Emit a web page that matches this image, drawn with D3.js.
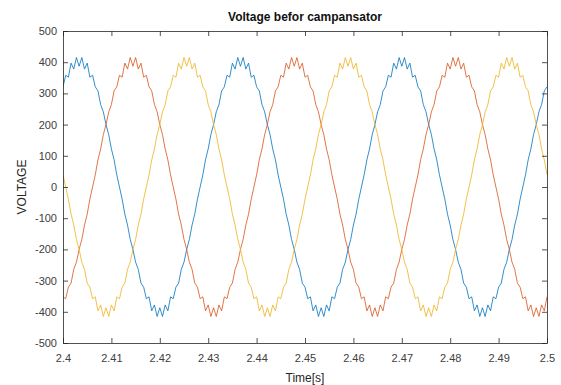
<!DOCTYPE html>
<html lang="en">
<head>
<meta charset="UTF-8">
<title>Voltage befor campansator</title>
<script src="https://cdnjs.cloudflare.com/ajax/libs/d3/7.8.5/d3.min.js"></script>
<style>
    body { margin: 0; background: #fff; font-family: "Liberation Sans", Arial, sans-serif; }
    svg { display: block; }
</style>
</head>
<body>
<svg id="chart" width="561" height="385"></svg>
<script>
// sampled at 1/1800 s starting at 2.4 s
const tStart = 2.4;
const tStep = 1 / 1800;

const phaseA = [ // blue
    321, 358, 352, 397, 378, 415, 387, 415, 378, 397, 352, 358, 321, 308, 264, 241, 200, 168, 122, 87, 39,
    0, -39, -87, -122, -168, -200, -241, -264, -308, -321, -358, -352, -397, -378, -415, -387, -415, -378, -397, -352,
    -358, -321, -308, -264, -241, -200, -168, -122, -87, -39, 0, 39, 87, 122, 168, 200, 241, 264, 308, 321,
    358, 352, 397, 378, 415, 387, 415, 378, 397, 352, 358, 321, 308, 264, 241, 200, 168, 122, 87, 39,
    0, -39, -87, -122, -168, -200, -241, -264, -308, -321, -358, -352, -397, -378, -415, -387, -415, -378, -397, -352,
    -358, -321, -308, -264, -241, -200, -168, -122, -87, -39, 0, 39, 87, 122, 168, 200, 241, 264, 308, 321,
    358, 352, 397, 378, 415, 387, 415, 378, 397, 352, 358, 321, 308, 264, 241, 200, 168, 122, 87, 39,
    0, -39, -87, -122, -168, -200, -241, -264, -308, -321, -358, -352, -397, -378, -415, -387, -415, -378, -397, -352,
    -358, -321, -308, -264, -241, -200, -168, -122, -87, -39, 0, 39, 87, 122, 168, 200, 241, 264, 308, 321
];

const phaseB = [ // orange
    -352, -358, -321, -308, -264, -241, -200, -168, -122, -87, -39, 0, 39, 87, 122, 168, 200, 241, 264, 308, 321,
    358, 352, 397, 378, 415, 387, 415, 378, 397, 352, 358, 321, 308, 264, 241, 200, 168, 122, 87, 39,
    0, -39, -87, -122, -168, -200, -241, -264, -308, -321, -358, -352, -397, -378, -415, -387, -415, -378, -397, -352,
    -358, -321, -308, -264, -241, -200, -168, -122, -87, -39, 0, 39, 87, 122, 168, 200, 241, 264, 308, 321,
    358, 352, 397, 378, 415, 387, 415, 378, 397, 352, 358, 321, 308, 264, 241, 200, 168, 122, 87, 39,
    0, -39, -87, -122, -168, -200, -241, -264, -308, -321, -358, -352, -397, -378, -415, -387, -415, -378, -397, -352,
    -358, -321, -308, -264, -241, -200, -168, -122, -87, -39, 0, 39, 87, 122, 168, 200, 241, 264, 308, 321,
    358, 352, 397, 378, 415, 387, 415, 378, 397, 352, 358, 321, 308, 264, 241, 200, 168, 122, 87, 39,
    0, -39, -87, -122, -168, -200, -241, -264, -308, -321, -358, -352, -397, -378, -415, -387, -415, -378, -397, -352
];

const phaseC = [ // yellow
    39,
    0, -39, -87, -122, -168, -200, -241, -264, -308, -321, -358, -352, -397, -378, -415, -387, -415, -378, -397, -352,
    -358, -321, -308, -264, -241, -200, -168, -122, -87, -39, 0, 39, 87, 122, 168, 200, 241, 264, 308, 321,
    358, 352, 397, 378, 415, 387, 415, 378, 397, 352, 358, 321, 308, 264, 241, 200, 168, 122, 87, 39,
    0, -39, -87, -122, -168, -200, -241, -264, -308, -321, -358, -352, -397, -378, -415, -387, -415, -378, -397, -352,
    -358, -321, -308, -264, -241, -200, -168, -122, -87, -39, 0, 39, 87, 122, 168, 200, 241, 264, 308, 321,
    358, 352, 397, 378, 415, 387, 415, 378, 397, 352, 358, 321, 308, 264, 241, 200, 168, 122, 87, 39,
    0, -39, -87, -122, -168, -200, -241, -264, -308, -321, -358, -352, -397, -378, -415, -387, -415, -378, -397, -352,
    -358, -321, -308, -264, -241, -200, -168, -122, -87, -39, 0, 39, 87, 122, 168, 200, 241, 264, 308, 321,
    358, 352, 397, 378, 415, 387, 415, 378, 397, 352, 358, 321, 308, 264, 241, 200, 168, 122, 87, 39
];

const xTicks = [2.4, 2.41, 2.42, 2.43, 2.44, 2.45, 2.46, 2.47, 2.48, 2.49, 2.5];
const yTicks = [500, 400, 300, 200, 100, 0, -100, -200, -300, -400, -500];
const seriesColors = ["#0072BD", "#D95319", "#EDB120"];

const svg = d3.select("#chart");
const margin = { left: 63, right: 14, top: 31, bottom: 42 };
const width = 561, height = 385;
const x0 = margin.left, x1 = width - margin.right;
const y0 = margin.top, y1 = height - margin.bottom;

const x = d3.scaleLinear().domain([2.4, 2.5]).range([x0, x1]);
const y = d3.scaleLinear().domain([-500, 500]).range([y1, y0]);

svg.append("rect").attr("width", width).attr("height", height).attr("fill", "#fff");

// lines
const line = d3.line()
    .x((d, i) => x(tStart + i * tStep))
    .y(d => y(d));

const clip = svg.append("clipPath").attr("id", "plotclip")
    .append("rect").attr("x", x0).attr("y", y0).attr("width", x1 - x0).attr("height", y1 - y0);

svg.append("g").attr("clip-path", "url(#plotclip)")
    .selectAll("path")
    .data([phaseA, phaseB, phaseC])
    .enter()
    .append("path")
    .attr("d", line)
    .attr("fill", "none")
    .attr("stroke", (d, i) => seriesColors[i])
    .attr("stroke-width", 0.8)
    .attr("stroke-linejoin", "round");

// axes, MATLAB style box with inward ticks
const axisColor = "#262626";
const tickLen = 5;

const xAxis = svg.append("g").attr("transform", `translate(0,${y1})`)
    .call(d3.axisBottom(x).tickValues(xTicks).tickSizeInner(-tickLen).tickSizeOuter(0)
        .tickFormat(d => d3.format("")(+d.toFixed(2))));
const xAxisTop = svg.append("g").attr("transform", `translate(0,${y0})`)
    .call(d3.axisTop(x).tickValues(xTicks).tickSizeInner(-tickLen).tickSizeOuter(0).tickFormat(""));
const yAxis = svg.append("g").attr("transform", `translate(${x0},0)`)
    .call(d3.axisLeft(y).tickValues(yTicks).tickSizeInner(-tickLen).tickSizeOuter(0)
        .tickFormat(d => String(d)));
const yAxisRight = svg.append("g").attr("transform", `translate(${x1},0)`)
    .call(d3.axisRight(y).tickValues(yTicks).tickSizeInner(-tickLen).tickSizeOuter(0).tickFormat(""));

[xAxis, xAxisTop, yAxis, yAxisRight].forEach(g => {
    g.select(".domain").attr("stroke", axisColor).attr("stroke-width", 0.8);
    g.selectAll(".tick line").attr("stroke", axisColor).attr("stroke-width", 0.8);
    g.selectAll(".tick text")
        .attr("fill", "#404040")
        .attr("font-size", "11px")
        .attr("font-family", "'Liberation Sans', Arial, sans-serif");
});
xAxis.selectAll(".tick text").attr("y", 11);
yAxis.selectAll(".tick text").attr("x", -6);

// titles
svg.append("text")
    .attr("x", (x0 + x1) / 2)
    .attr("y", 21)
    .attr("text-anchor", "middle")
    .attr("font-size", "12px")
    .attr("font-weight", "bold")
    .attr("fill", "#111")
    .text("Voltage befor campansator");

svg.append("text")
    .attr("x", (x0 + x1) / 2)
    .attr("y", 382)
    .attr("text-anchor", "middle")
    .attr("font-size", "12px")
    .attr("fill", "#262626")
    .text("Time[s]");

svg.append("text")
    .attr("transform", `translate(26,${(y0 + y1) / 2}) rotate(-90)`)
    .attr("text-anchor", "middle")
    .attr("font-size", "12px")
    .attr("fill", "#262626")
    .text("VOLTAGE");
</script>
</body>
</html>
